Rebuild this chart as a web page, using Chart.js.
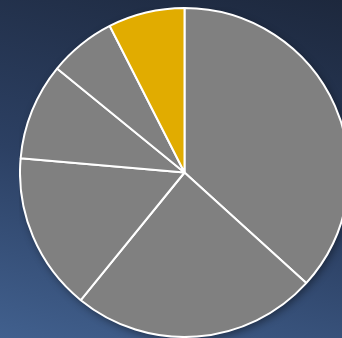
<!DOCTYPE html>
<html>
<head>
<meta charset="utf-8">
<script src="https://cdn.jsdelivr.net/npm/chart.js@4"></script>
<style>
  html, body {
    margin: 0;
    padding: 0;
    width: 342px;
    height: 338px;
    overflow: hidden;
  }
  body {
    position: relative;
    background: linear-gradient(15deg, #41608e 0%, #2c4063 45%, #1d283d 100%);
  }
  #wrap {
    position: absolute;
    left: 19px;
    top: 7px;
    width: 331px;
    height: 331px;
  }
</style>
</head>
<body>
<div id="wrap"><canvas id="pieChart"></canvas></div>
<script>
// slice shares, clockwise from 12 o'clock
const categories = ["A", "B", "C", "D", "E", "F"];
const shares = [36.7, 24.1, 15.5, 9.5, 6.6, 7.5];
const sliceColors = ["#808080", "#808080", "#808080", "#808080", "#808080", "#e1ac00"];

// soft shadow under the whole pie
const pieShadow = {
  id: "pieShadow",
  beforeDatasetsDraw(chart) {
    const arc = chart.getDatasetMeta(0).data[0];
    if (!arc) return;
    const ctx = chart.ctx;
    ctx.save();
    ctx.shadowColor = "rgba(0, 0, 0, 0.45)";
    ctx.shadowBlur = 8;
    ctx.shadowOffsetX = 2;
    ctx.shadowOffsetY = 3;
    ctx.fillStyle = "#808080";
    ctx.beginPath();
    ctx.arc(arc.x, arc.y, arc.outerRadius, 0, Math.PI * 2);
    ctx.fill();
    ctx.restore();
  }
};

new Chart(document.getElementById("pieChart"), {
  type: "pie",
  data: {
    labels: categories,
    datasets: [{
      data: shares,
      backgroundColor: sliceColors,
      borderColor: "#ffffff",
      borderWidth: 2
    }]
  },
  options: {
    responsive: true,
    maintainAspectRatio: false,
    animation: false,
    layout: { padding: 0 },
    plugins: {
      legend: { display: false },
      tooltip: { enabled: false }
    }
  },
  plugins: [pieShadow]
});
</script>
</body>
</html>
